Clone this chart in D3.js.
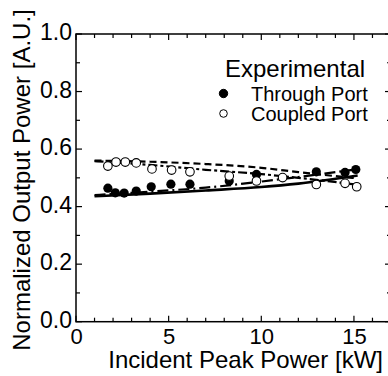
<!DOCTYPE html>
<html>
<head>
<meta charset="utf-8">
<script src="https://cdn.jsdelivr.net/npm/d3@7"></script>
<style>
  body { margin: 0; background: #fff; }
  svg { font-family: "Liberation Sans", Arial, sans-serif; }
</style>
</head>
<body>
<svg id="chart" width="388" height="376"></svg>
<script>
// experimental points
const throughX = [1.72, 2.12, 2.6, 3.25, 4.06, 5.12, 6.15, 8.27, 9.74, 12.97, 14.52, 15.1];
const throughY = [0.464, 0.448, 0.447, 0.454, 0.469, 0.478, 0.478, 0.489, 0.512, 0.521, 0.519, 0.529];
const coupledX = [1.72, 2.16, 2.66, 3.25, 4.1, 5.16, 6.15, 8.27, 9.74, 11.15, 12.97, 14.52, 15.15];
const coupledY = [0.541, 0.555, 0.555, 0.552, 0.531, 0.527, 0.521, 0.506, 0.489, 0.501, 0.477, 0.481, 0.469];

// curves
const lineX = [1, 4, 7, 10, 12, 15.2];
const throughSolid = [0.436, 0.445, 0.456, 0.468, 0.480, 0.508];
const throughDashDot = [0.440, 0.452, 0.466, 0.487, 0.503, 0.530];
const coupledDash = [0.560, 0.556, 0.548, 0.535, 0.520, 0.498];
const coupledDash2 = [0.558, 0.545, 0.528, 0.513, 0.500, 0.476];

const xTicks = [0, 5, 10, 15];
const yTicks = [0.0, 0.2, 0.4, 0.6, 0.8, 1.0];
const legendTitle = 'Experimental';
const legendItems = ['Through Port', 'Coupled Port'];

const pLeft = 76, pRight = 391, pTop = 34, pBottom = 321.7;
const svg = d3.select('#chart');

const x = d3.scaleLinear().domain([0, 17]).range([pLeft, pRight]);
const y = d3.scaleLinear().domain([0, 1]).range([pBottom, pTop]);

const g = svg.append('g');

// minor ticks
const minorX = d3.range(0, 17.01, 1);
const minorY = d3.range(0, 1.001, 0.1);
const axisStroke = '#000';

g.selectAll('.mxb').data(minorX).enter().append('line')
  .attr('x1', d => x(d)).attr('x2', d => x(d))
  .attr('y1', pBottom).attr('y2', d => pBottom - (d % 5 === 0 ? 6 : 4))
  .attr('stroke', axisStroke).attr('stroke-width', 1.2);
g.selectAll('.mxt').data(minorX).enter().append('line')
  .attr('x1', d => x(d)).attr('x2', d => x(d))
  .attr('y1', pTop).attr('y2', d => pTop + (d % 5 === 0 ? 6 : 4))
  .attr('stroke', axisStroke).attr('stroke-width', 1.2);
g.selectAll('.myl').data(minorY).enter().append('line')
  .attr('y1', d => y(d)).attr('y2', d => y(d))
  .attr('x1', pLeft).attr('x2', (d, i) => pLeft + (i % 2 === 0 ? 6 : 4))
  .attr('stroke', axisStroke).attr('stroke-width', 1.2);
g.selectAll('.myr').data(minorY).enter().append('line')
  .attr('y1', d => y(d)).attr('y2', d => y(d))
  .attr('x1', pRight).attr('x2', (d, i) => pRight - (i % 2 === 0 ? 6 : 4))
  .attr('stroke', axisStroke).attr('stroke-width', 1.2);

// frame
g.append('rect')
  .attr('x', pLeft).attr('y', pTop)
  .attr('width', pRight - pLeft).attr('height', pBottom - pTop)
  .attr('fill', 'none').attr('stroke', axisStroke).attr('stroke-width', 1.5);

// tick labels through axes
const xAxis = d3.axisBottom(x).tickValues(xTicks).tickSize(0).tickPadding(7).tickFormat(d3.format('d'));
const gx = svg.append('g').attr('transform', `translate(0,${pBottom})`).call(xAxis);
gx.select('.domain').remove();
gx.selectAll('text').attr('font-size', 22).attr('font-family', '"Liberation Sans", Arial, sans-serif').attr('fill', '#000');

const yAxis = d3.axisLeft(y).tickValues(yTicks).tickSize(0).tickPadding(4).tickFormat(d3.format('.1f'));
const gy = svg.append('g').attr('transform', `translate(${pLeft},0)`).call(yAxis);
gy.select('.domain').remove();
gy.selectAll('text').attr('font-size', 23).attr('dy', '0.25em').attr('font-family', '"Liberation Sans", Arial, sans-serif').attr('fill', '#000');

// axis titles
svg.append('text')
  .attr('x', 383).attr('y', 368)
  .attr('text-anchor', 'end')
  .attr('font-size', 24)
  .text('Incident Peak Power [kW]');

svg.append('text')
  .attr('transform', 'translate(30,180) rotate(-90)')
  .attr('text-anchor', 'middle')
  .attr('font-size', 24)
  .text('Normalized Output Power [A.U.]');

// curves
const line = d3.line().x(d => x(d[0])).y(d => y(d[1])).curve(d3.curveMonotoneX);
const curves = [
  { v: throughSolid, dash: null, w: 2.6 },
  { v: throughDashDot, dash: '11,4,2,4', w: 2.2 },
  { v: coupledDash, dash: '7,4', w: 2.2 },
  { v: coupledDash2, dash: '9,3,3,3', w: 2.2 }
];
curves.forEach(c => {
  svg.append('path')
    .datum(lineX.map((xv, i) => [xv, c.v[i]]))
    .attr('d', line)
    .attr('fill', 'none')
    .attr('stroke', '#000')
    .attr('stroke-width', c.w)
    .attr('stroke-dasharray', c.dash);
});

// markers
svg.selectAll('.through').data(throughX.map((v, i) => [v, throughY[i]])).enter()
  .append('circle')
  .attr('cx', d => x(d[0])).attr('cy', d => y(d[1])).attr('r', 4.6)
  .attr('fill', '#000');

svg.selectAll('.coupled').data(coupledX.map((v, i) => [v, coupledY[i]])).enter()
  .append('circle')
  .attr('cx', d => x(d[0])).attr('cy', d => y(d[1])).attr('r', 4.3)
  .attr('fill', '#fff').attr('stroke', '#000').attr('stroke-width', 1.1);

// legend
svg.append('text').attr('x', 225).attr('y', 77).attr('font-size', 24).text(legendTitle);
const lg = svg.selectAll('.leg').data(legendItems).enter().append('g')
  .attr('transform', (d, i) => `translate(0,${i * 20})`);
lg.append('circle').attr('cx', 223.5).attr('cy', 93.5).attr('r', (d, i) => i === 0 ? 4.2 : 3.8)
  .attr('fill', (d, i) => i === 0 ? '#000' : '#fff')
  .attr('stroke', '#000').attr('stroke-width', 1);
lg.append('text').attr('x', 251).attr('y', 100.5).attr('font-size', 20).text(d => d);
</script>
</body>
</html>
